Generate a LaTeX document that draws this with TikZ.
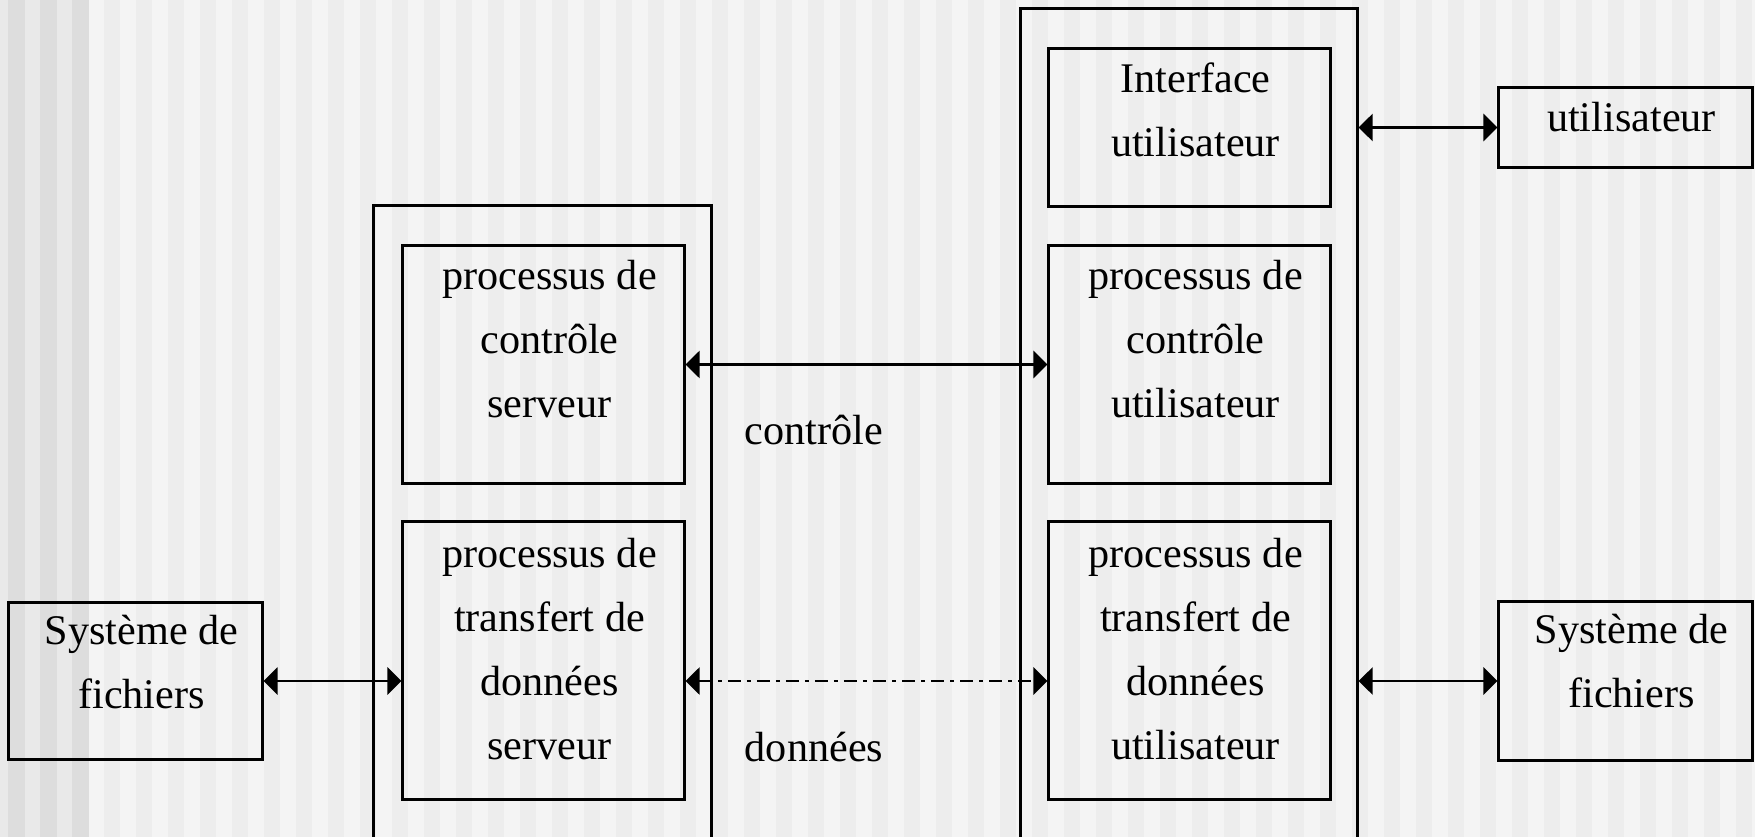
\documentclass[tikz,border=0pt]{standalone}
\usepackage{fontspec}
\setmainfont{Liberation Serif}
\usetikzlibrary{arrows.meta}
\definecolor{bgbase}{HTML}{F4F4F4}
\definecolor{bgstripe}{HTML}{EDEDED}
\definecolor{bgleft}{HTML}{E9E9E9}
\definecolor{bgleftdark}{HTML}{DDDDDD}
\tikzset{
  boxnode/.style={draw=black, line width=0.85pt, rectangle, inner sep=0pt},
  txt/.style={font=\fontsize{12}{18.2}\selectfont, align=center, inner sep=0pt, anchor=north},
  lbl/.style={font=\fontsize{12}{18.2}\selectfont, inner sep=0pt, anchor=base},
  biarrow/.style={line width=0.8pt, {Triangle[length=0.14cm,width=0.27cm]}-{Triangle[length=0.14cm,width=0.27cm]}},
  dashdot/.style={dash pattern=on 0.13cm off 0.06cm on 0.04cm off 0.06cm},
}
\begin{document}
\begin{tikzpicture}[x=0.01cm,y=-0.01cm]
\useasboundingbox (0,0) rectangle (1755,837);
\clip (0,0) rectangle (1755,837);
% background stripes
\fill[bgbase] (0,0) rectangle (1755,837);
\foreach \k in {0,...,51} \fill[bgstripe] ({104+32*\k},0) rectangle ({120+32*\k},837);
\fill[bgleft] (0,0) rectangle (88,837);
\foreach \k in {0,1,2} \fill[bgleftdark] ({8+32*\k},0) rectangle ({25+32*\k},837);

% containers
\node[boxnode, minimum width=3.37cm, minimum height=6.94cm] (srv) at (542.5,553) {};
\node[boxnode, minimum width=3.36cm, minimum height=8.91cm] (cli) at (1189,454.5) {};

% boxes
\node[boxnode, minimum width=2.81cm, minimum height=2.37cm] (sctl) at (543.5,364.5) {};
\node[boxnode, minimum width=2.81cm, minimum height=2.77cm] (sdat) at (543.5,660.5) {};
\node[boxnode, minimum width=2.81cm, minimum height=1.57cm] (iface) at (1189.5,127.5) {};
\node[boxnode, minimum width=2.81cm, minimum height=2.37cm] (cctl) at (1189.5,364.5) {};
\node[boxnode, minimum width=2.81cm, minimum height=2.77cm] (cdat) at (1189.5,660.5) {};
\node[boxnode, minimum width=2.53cm, minimum height=0.79cm] (user) at (1625.5,127.5) {};
\node[boxnode, minimum width=2.53cm, minimum height=1.57cm] (fsL) at (135.5,681) {};
\node[boxnode, minimum width=2.53cm, minimum height=1.58cm] (fsR) at (1625.5,681) {};

% texts
\node[txt] (tsctl) at ([xshift=0.06cm,yshift=-0.154cm]sctl.north) {processus de\\contrôle\\serveur};
\node[txt] (tsdat) at ([xshift=0.06cm,yshift=-0.174cm]sdat.north) {processus de\\transfert de\\données\\serveur};
\node[txt] (tiface) at ([xshift=0.06cm,yshift=-0.144cm]iface.north) {Interface\\utilisateur};
\node[txt] (tcctl) at ([xshift=0.06cm,yshift=-0.154cm]cctl.north) {processus de\\contrôle\\utilisateur};
\node[txt] (tcdat) at ([xshift=0.06cm,yshift=-0.174cm]cdat.north) {processus de\\transfert de\\données\\utilisateur};
\node[txt] (tuser) at ([xshift=0.06cm,yshift=-0.154cm]user.north) {utilisateur};
\node[txt] (tfsL) at ([xshift=0.06cm,yshift=-0.134cm]fsL.north) {Système de\\fichiers};
\node[txt] (tfsR) at ([xshift=0.06cm,yshift=-0.134cm]fsR.north) {Système de\\fichiers};

% labels
\node[lbl] (lctl) at (814,444) {contrôle};
\node[lbl] (ldat) at (814,761) {données};

% connectors
\draw[biarrow] (fsL.east) -- (fsL.east -| sdat.west);
\draw[biarrow] (sctl.east) -- (cctl.west);
\draw[biarrow, dashdot] (sdat.east |- fsL.east) -- (cdat.west |- fsL.east);
\draw[biarrow] (cli.east |- user.west) -- (user.west);
\draw[biarrow] (cli.east |- fsR.west) -- (fsR.west);
\end{tikzpicture}
\end{document}
